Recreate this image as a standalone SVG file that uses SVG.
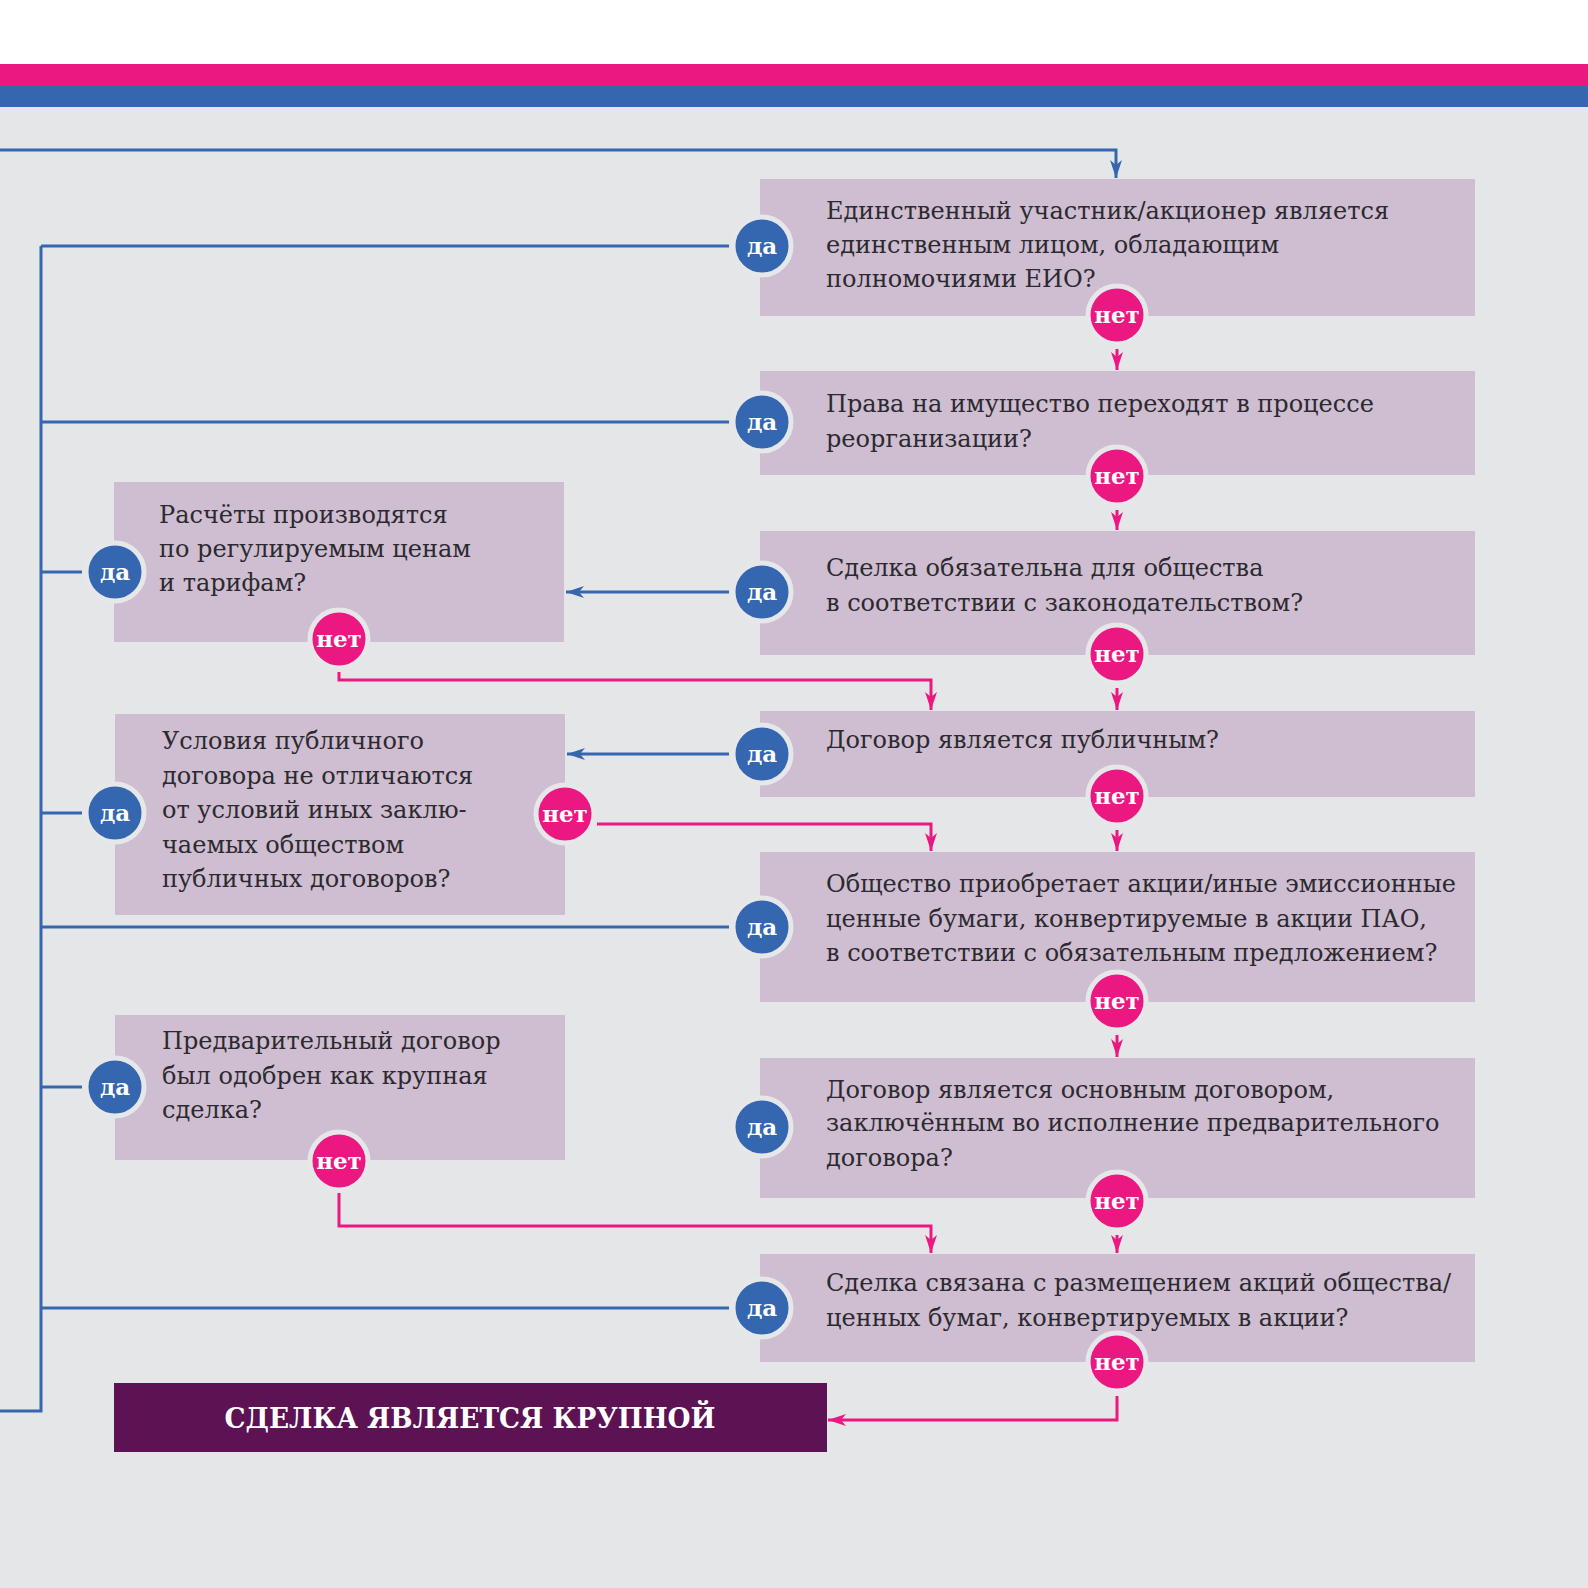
<svg xmlns="http://www.w3.org/2000/svg" width="1588" height="1588" viewBox="0 0 1588 1588">
<style>
.box{fill:#cfbdd1}
.t{font-family:"DejaVu Serif","Liberation Serif",serif;font-size:24px;fill:#2b2a2e}
.lbl{font-family:"DejaVu Serif","Liberation Serif",serif;font-size:23px;font-weight:bold;fill:#ffffff;text-anchor:middle}
.da{fill:#3566b0;stroke:#e6e7e9;stroke-width:5}
.net{fill:#ec1882;stroke:#e6e7e9;stroke-width:5}
.bl{fill:none;stroke:#3566b0;stroke-width:3}
.pk{fill:none;stroke:#ec1882;stroke-width:3}
</style>
<defs>
<marker id="ab" markerUnits="userSpaceOnUse" markerWidth="20" markerHeight="14" refX="18" refY="6" orient="auto"><path d="M0,0 L18,6 L0,12 L5,6 z" fill="#3566b0"/></marker>
<marker id="ap" markerUnits="userSpaceOnUse" markerWidth="20" markerHeight="14" refX="18" refY="6" orient="auto"><path d="M0,0 L18,6 L0,12 L5,6 z" fill="#ec1882"/></marker>
</defs>
<rect x="0" y="0" width="1588" height="1588" fill="#e5e6e8"/>
<rect x="0" y="0" width="1588" height="64" fill="#ffffff"/>
<rect x="0" y="64" width="1588" height="22" fill="#ec1882"/>
<rect x="0" y="86" width="1588" height="21" fill="#3566b0"/>

<g id="connectors">
<path class="bl" d="M0,150 H1116 V178" marker-end="url(#ab)"/>
<path class="bl" d="M41,246 V1411 H0"/>
<path class="bl" d="M41,246 H729"/>
<path class="bl" d="M41,422 H729"/>
<path class="bl" d="M41,927 H729"/>
<path class="bl" d="M41,1308 H729"/>
<path class="bl" d="M41,572 H82"/>
<path class="bl" d="M41,813 H82"/>
<path class="bl" d="M41,1087 H82"/>
<path class="bl" d="M729,592 H566" marker-end="url(#ab)"/>
<path class="bl" d="M729,754 H567" marker-end="url(#ab)"/>
<path class="pk" d="M1117,349 V370" marker-end="url(#ap)"/>
<path class="pk" d="M1117,510 V530" marker-end="url(#ap)"/>
<path class="pk" d="M1117,688 V710" marker-end="url(#ap)"/>
<path class="pk" d="M1117,830 V851" marker-end="url(#ap)"/>
<path class="pk" d="M1117,1035 V1057" marker-end="url(#ap)"/>
<path class="pk" d="M1117,1235 V1253" marker-end="url(#ap)"/>
<path class="pk" d="M339,672 V680 H931 V710" marker-end="url(#ap)"/>
<path class="pk" d="M597,824 H931 V851" marker-end="url(#ap)"/>
<path class="pk" d="M339,1193 V1226 H931 V1253" marker-end="url(#ap)"/>
<path class="pk" d="M1117,1396 V1420 H828" marker-end="url(#ap)"/>
</g>

<g id="q1">
<rect class="box" x="760" y="179" width="715" height="137"/>
<text class="t" x="826" y="219">Единственный участник/акционер является</text>
<text class="t" x="826" y="253">единственным лицом, обладающим</text>
<text class="t" x="826" y="287">полномочиями ЕИО?</text>
</g>
<g id="q2">
<rect class="box" x="760" y="371" width="715" height="104"/>
<text class="t" x="826" y="412">Права на имущество переходят в процессе</text>
<text class="t" x="826" y="447">реорганизации?</text>
</g>
<g id="q3">
<rect class="box" x="760" y="531" width="715" height="124"/>
<text class="t" x="826" y="576">Сделка обязательна для общества</text>
<text class="t" x="826" y="611">в соответствии с законодательством?</text>
</g>
<g id="q4">
<rect class="box" x="760" y="711" width="715" height="86"/>
<text class="t" x="826" y="748">Договор является публичным?</text>
</g>
<g id="q5">
<rect class="box" x="760" y="852" width="715" height="150"/>
<text class="t" x="826" y="892">Общество приобретает акции/иные эмиссионные</text>
<text class="t" x="826" y="927">ценные бумаги, конвертируемые в акции ПАО,</text>
<text class="t" x="826" y="961">в соответствии с обязательным предложением?</text>
</g>
<g id="q6">
<rect class="box" x="760" y="1058" width="715" height="140"/>
<text class="t" x="826" y="1098">Договор является основным договором,</text>
<text class="t" x="826" y="1131">заключённым во исполнение предварительного</text>
<text class="t" x="826" y="1166">договора?</text>
</g>
<g id="q7">
<rect class="box" x="760" y="1254" width="715" height="108"/>
<text class="t" x="826" y="1291">Сделка связана с размещением акций общества/</text>
<text class="t" x="826" y="1326">ценных бумаг, конвертируемых в акции?</text>
</g>
<g id="qa">
<rect class="box" x="114" y="482" width="450" height="160"/>
<text class="t" x="159" y="523">Расчёты производятся</text>
<text class="t" x="159" y="557">по регулируемым ценам</text>
<text class="t" x="159" y="591">и тарифам?</text>
</g>
<g id="qb">
<rect class="box" x="115" y="714" width="450" height="201"/>
<text class="t" x="162" y="749">Условия публичного</text>
<text class="t" x="162" y="784">договора не отличаются</text>
<text class="t" x="162" y="818">от условий иных заклю-</text>
<text class="t" x="162" y="853">чаемых обществом</text>
<text class="t" x="162" y="887">публичных договоров?</text>
</g>
<g id="qc">
<rect class="box" x="115" y="1015" width="450" height="145"/>
<text class="t" x="162" y="1049">Предварительный договор</text>
<text class="t" x="162" y="1084">был одобрен как крупная</text>
<text class="t" x="162" y="1118">сделка?</text>
</g>
<g id="result">
<rect x="114" y="1383" width="713" height="69" fill="#5c1253"/>
<text x="470" y="1428" font-family="DejaVu Serif, Liberation Serif, serif" font-size="27" font-weight="bold" fill="#ffffff" text-anchor="middle" textLength="491" lengthAdjust="spacingAndGlyphs">СДЕЛКА ЯВЛЯЕТСЯ КРУПНОЙ</text>
</g>

<g id="badges">
<g id="da1"><circle class="da" cx="762" cy="246" r="29"/><text class="lbl" x="762" y="254">да</text></g>
<g id="da2"><circle class="da" cx="762" cy="422" r="29"/><text class="lbl" x="762" y="430">да</text></g>
<g id="da3"><circle class="da" cx="762" cy="592" r="29"/><text class="lbl" x="762" y="600">да</text></g>
<g id="da4"><circle class="da" cx="762" cy="754" r="29"/><text class="lbl" x="762" y="762">да</text></g>
<g id="da5"><circle class="da" cx="762" cy="927" r="29"/><text class="lbl" x="762" y="935">да</text></g>
<g id="da6"><circle class="da" cx="762" cy="1127" r="29"/><text class="lbl" x="762" y="1135">да</text></g>
<g id="da7"><circle class="da" cx="762" cy="1308" r="29"/><text class="lbl" x="762" y="1316">да</text></g>
<g id="daA"><circle class="da" cx="115" cy="572" r="29"/><text class="lbl" x="115" y="580">да</text></g>
<g id="daB"><circle class="da" cx="115" cy="813" r="29"/><text class="lbl" x="115" y="821">да</text></g>
<g id="daC"><circle class="da" cx="115" cy="1087" r="29"/><text class="lbl" x="115" y="1095">да</text></g>
<g id="net1"><circle class="net" cx="1117" cy="315" r="29"/><text class="lbl" x="1117" y="323">нет</text></g>
<g id="net2"><circle class="net" cx="1117" cy="476" r="29"/><text class="lbl" x="1117" y="484">нет</text></g>
<g id="net3"><circle class="net" cx="1117" cy="654" r="29"/><text class="lbl" x="1117" y="662">нет</text></g>
<g id="net4"><circle class="net" cx="1117" cy="796" r="29"/><text class="lbl" x="1117" y="804">нет</text></g>
<g id="net5"><circle class="net" cx="1117" cy="1001" r="29"/><text class="lbl" x="1117" y="1009">нет</text></g>
<g id="net6"><circle class="net" cx="1117" cy="1201" r="29"/><text class="lbl" x="1117" y="1209">нет</text></g>
<g id="net7"><circle class="net" cx="1117" cy="1362" r="29"/><text class="lbl" x="1117" y="1370">нет</text></g>
<g id="netA"><circle class="net" cx="339" cy="639" r="29"/><text class="lbl" x="339" y="647">нет</text></g>
<g id="netB"><circle class="net" cx="565" cy="814" r="29"/><text class="lbl" x="565" y="822">нет</text></g>
<g id="netC"><circle class="net" cx="339" cy="1161" r="29"/><text class="lbl" x="339" y="1169">нет</text></g>
</g>
</svg>
